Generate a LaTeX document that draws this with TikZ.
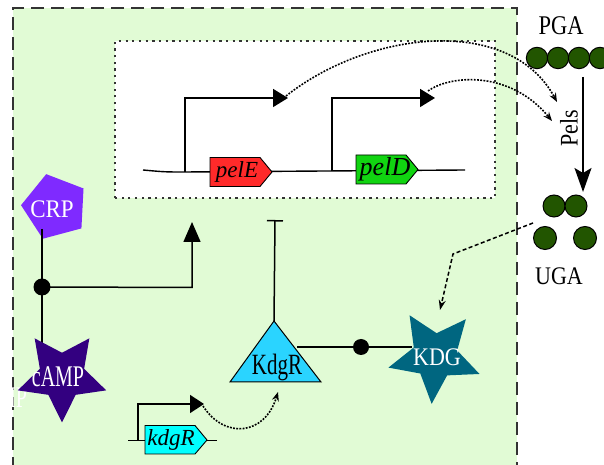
\documentclass[tikz,border=0pt]{standalone}
\usepackage{fontspec}
\setmainfont{Liberation Serif}
\usepackage{graphicx}
\usetikzlibrary{arrows.meta,shapes.geometric}
\definecolor{bggreen}{HTML}{E1FBD5}
\definecolor{dashgray}{HTML}{333333}
\definecolor{pelred}{HTML}{FF2A2A}
\definecolor{peldgreen}{HTML}{11D411}
\definecolor{kdgrcyan}{HTML}{00FFFF}
\definecolor{tricyan}{HTML}{2AD4FF}
\definecolor{crppurple}{HTML}{7F2AFF}
\definecolor{campurple}{HTML}{330080}
\definecolor{kdgteal}{HTML}{006680}
\definecolor{beadgreen}{HTML}{225500}
\begin{document}
\begin{tikzpicture}[x=1pt,y=1pt,
  ln/.style={line width=1.5pt},
  dotarrow/.style={line width=1.6pt, dash pattern=on 1.8pt off 1.4pt, -{Stealth[length=9pt,width=7pt]}},
  dasharrow/.style={line width=1.5pt, dash pattern=on 4pt off 2.5pt, -{Stealth[length=10pt,width=7pt]}},
  promo/.style={line width=1.6pt, -{Triangle[length=15pt,width=18pt]}},
  gene/.style={draw=black, line width=0.9pt},
  genelbl/.style={inner sep=0, font=\fontsize{23}{23}\selectfont\itshape},
  bead/.style={circle, draw=black, line width=1pt, fill=beadgreen, inner sep=0},
  whitelbl/.style={text=white, inner sep=0},
  blacklbl/.style={text=black, inner sep=0},
  jdot/.style={circle, fill=black, minimum size=16pt, inner sep=0},
  starshape/.style={star, star points=5, inner sep=0, shape border rotate=180}
]
\useasboundingbox (0,0) rectangle (604,465);
\clip (0,0) rectangle (604,465);

% cell background
\path[fill=bggreen] (13,-5) rectangle (517,457);
\draw[dashgray, line width=1.5pt, dash pattern=on 13pt off 7pt] (13,-5) -- (13,457) -- (517,457) -- (517,-5);

% ghost text (partly hidden at the left edge, as in the reference)
\node[whitelbl, font=\fontsize{20}{20}\selectfont] (campghost) at (1,67) {\scalebox{1}[1.5]{cAMP}};

% operon box
\draw[fill=white, draw=dashgray, line width=1.1pt, dash pattern=on 2.2pt off 4.5pt] (115,267) rectangle (495,424);

% DNA
\coordinate (dnaL) at (143,295);
\coordinate (p1base) at (185,293);
\coordinate (p2base) at (332,294.5);
\coordinate (dnaR) at (465,295);
\draw[line width=1.4pt] (dnaL) .. controls (165,293) .. (p1base) -- (dnaR);
\path[gene, fill=pelred] (210,278.5) -- (260,278.5) -- (272,293) -- (260,307.5) -- (210,307.5) -- cycle;
\node[genelbl] (pele) at (237,293) {pelE};
\path[gene, fill=peldgreen] (356,281) -- (406,281) -- (418,295.5) -- (406,310) -- (356,310) -- cycle;
\node[genelbl, font=\fontsize{26}{26}\selectfont\itshape] (peld) at (385,295.5) {pelD};
\coordinate (p1tip) at (288,367);
\coordinate (p2tip) at (435,367);
\draw[promo] (p1base) |- (p1tip);
\draw[promo] (p2base) |- (p2tip);

% kdgR gene
\coordinate (kgL) at (128,24.5);
\coordinate (kgR) at (217,24.5);
\coordinate (kpbase) at (138,24.5);
\coordinate (kptip) at (204,61);
\draw[line width=1.4pt] (kgL) -- (kgR);
\path[gene, fill=kdgrcyan] (145,11) -- (195,11) -- (207,25) -- (195,39.5) -- (145,39.5) -- cycle;
\node[genelbl] (kdgrgene) at (171,25) {kdgR};
\draw[line width=1.6pt, -{Triangle[length=14pt,width=18pt]}] (kpbase) |- (kptip);

% PGA / UGA
\node[blacklbl, font=\fontsize{22.5}{22.5}\selectfont] (pga) at (561,439) {\scalebox{1}[1.2]{PGA}};
\node[bead, minimum size=21.4pt] (pga1) at (537,407) {};
\node[bead, minimum size=21.4pt] (pga2) at (558,407) {};
\node[bead, minimum size=21.4pt] (pga3) at (579,407) {};
\node[bead, minimum size=21.4pt] (pga4) at (600,407) {};
\coordinate (pelsTop) at (583,388);
\coordinate (pelsBot) at (583,273);
\draw[ln, -{Stealth[length=24pt,width=17pt,inset=5pt]}] (pelsTop) -- (pelsBot);
\node[blacklbl, font=\fontsize{22}{22}\selectfont, rotate=90] (pels) at (569,337) {\scalebox{1}[1.15]{Pels}};
\node[bead, minimum size=22pt] (uga1) at (554,259) {};
\node[bead, minimum size=22pt] (uga2) at (576,259) {};
\node[bead, minimum size=23pt] (uga3) at (545,227) {};
\node[bead, minimum size=23pt] (uga4) at (585,227) {};
\node[blacklbl, font=\fontsize{22}{22}\selectfont] (uga) at (559,188.5) {\scalebox{1}[1.15]{UGA}};

% dotted curves to Pels
\coordinate (pelsA) at (557,363);
\coordinate (pelsB) at (552,344);
\coordinate (c1s) at (286,369);
\coordinate (c2s) at (428,374);
\draw[dotarrow] (c1s) .. controls (370,435) and (510,450) .. (pelsA);
\draw[dotarrow] (c2s) .. controls (450,390) and (510,395) .. (pelsB);

% CRP / cAMP
\node[regular polygon, regular polygon sides=5, minimum size=68pt, inner sep=0, fill=crppurple, rotate=15] (crp) at (55,258) {};
\node[whitelbl, font=\fontsize{23}{23}\selectfont] (crpl) at (52,256) {\scalebox{1}[1.1]{CRP}};
\coordinate (crpb) at (42,236);
\coordinate (campt) at (42,122);
\coordinate (crpcorner) at (192,177.5);
\coordinate (crptip) at (192,243);
\draw[ln] (crpb) -- (campt);
\node[jdot, minimum size=17pt] (j1) at (42,178) {};
\draw[ln, -{Triangle[length=20pt,width=17pt]}] (j1.center) -- (crpcorner) -- (crptip);
\node[starshape, star point ratio=2.0, minimum size=93pt, fill=campurple] (camp) at (62,89) {};
\node[whitelbl, font=\fontsize{20}{20}\selectfont] (campl) at (58,88) {\scalebox{1}[1.5]{cAMP}};

% KdgR
\coordinate (kinh) at (275,245);
\path[draw=black, line width=1pt, fill=tricyan] (230,83) coordinate (kbl) -- (274,144) coordinate (kapex) -- (321,83) coordinate (kbr) -- cycle;
\draw[ln, -{Bar[width=16pt,line width=1.5pt]}] (kapex) -- (kinh);
\node[blacklbl, font=\fontsize{21}{21}\selectfont] (kdgrl) at (277,98) {\scalebox{1}[1.4]{KdgR}};
\coordinate (kr) at (297,118);
\coordinate (ks) at (412,118);
\draw[ln] (kr) -- (ks);
\node[jdot] (j2) at (361,118) {};
\node[starshape, star point ratio=2.1, minimum size=96pt, fill=kdgteal, shape border rotate=176] (kdg) at (435,109) {};
\node[whitelbl, font=\fontsize{22}{22}\selectfont] (kdgl) at (437,108) {\scalebox{1}[1.15]{KDG}};

% kdgR -> KdgR
\coordinate (ktri) at (278,73);
\draw[dotarrow] (kptip) ++(-1,-2) coordinate (kds) .. controls (225,25) and (265,30) .. (ktri);

% UGA -> KDG
\coordinate (ugas) at (533,242);
\coordinate (ugac) at (453,211);
\coordinate (kdgt) at (440,155);
\draw[dasharrow] (ugas) -- (ugac) -- (kdgt);
\end{tikzpicture}
\end{document}
